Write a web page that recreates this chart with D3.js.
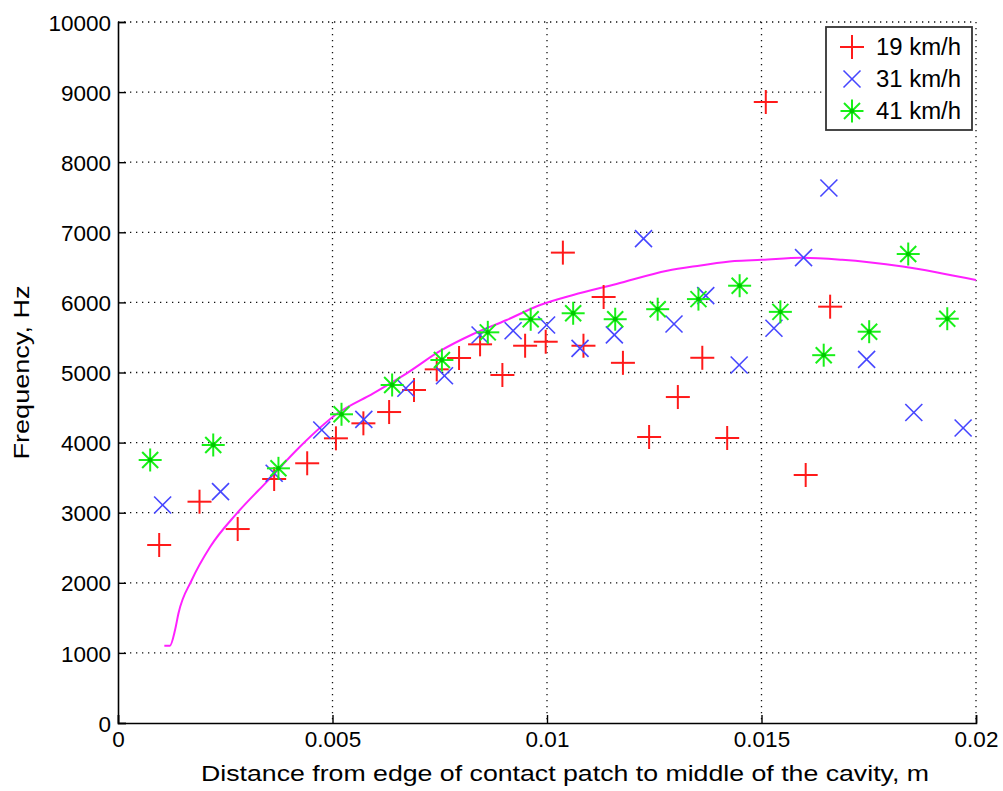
<!DOCTYPE html>
<html>
<head>
<meta charset="utf-8">
<script src="https://cdn.jsdelivr.net/npm/d3@7"></script>
<style>
  body { margin: 0; background: #fff; }
  text { font-family: "Liberation Sans", Arial, Helvetica, sans-serif; fill: #000; }
</style>
</head>
<body>
<div id="chart"></div>
<script>
const WIDTH = 1003;
const HEIGHT = 791;
const MARGIN = { top: 22, right: 27, bottom: 68, left: 118 };
const FONT_SIZE = 22.5;

// --------------- Data ---------------
const speeds = ["19 km/h", "31 km/h", "41 km/h"];

const dist19 = [0.00096, 0.00190, 0.00279, 0.00364, 0.00441, 0.00508, 0.00572, 0.00632, 0.00690,
  0.00743, 0.00795, 0.00844, 0.00896, 0.00949, 0.00997, 0.01037, 0.01085, 0.01132, 0.01177,
  0.01238, 0.01305, 0.01362, 0.01420, 0.01510, 0.01603, 0.01660];
const freq19 = [2539, 3157, 2767, 3481, 3705, 4061, 4275, 4436, 4750,
  5045, 5207, 5402, 4964, 5382, 5439, 6710, 5382, 6077, 5138,
  4080, 4650, 5210, 4066, 8859, 3538, 5939];

const dist31 = [0.00104, 0.00239, 0.00364, 0.00475, 0.00573, 0.00671, 0.00761, 0.00844, 0.00921,
  0.00999, 0.01077, 0.01157, 0.01225, 0.01296, 0.01370, 0.01448, 0.01529, 0.01598, 0.01657,
  0.01745, 0.01855, 0.01970];
const freq31 = [3110, 3300, 3562, 4180, 4332, 4775, 4954, 5535, 5596,
  5677, 5345, 5536, 6910, 5692, 6097, 5107, 5632, 6638, 7632,
  5187, 4430, 4208];

const dist41 = [0.00075, 0.00222, 0.00374, 0.00521, 0.00639, 0.00755, 0.00862, 0.00962, 0.01061,
  0.01159, 0.01258, 0.01353, 0.01449, 0.01544, 0.01645, 0.01751, 0.01842, 0.01933];
const freq41 = [3752, 3966, 3633, 4404, 4822, 5178, 5573, 5759, 5845,
  5760, 5903, 6047, 6238, 5865, 5247, 5582, 6690, 5767];

// magenta fitted curve, traced point by point
const curveX = [0.00108, 0.00121, 0.00133, 0.00141, 0.00172, 0.00215, 0.00277, 0.00350, 0.00424,
  0.00512, 0.00595, 0.00673, 0.00751, 0.00828, 0.00906, 0.00984, 0.01061, 0.01162, 0.01280,
  0.01358, 0.01437, 0.01500, 0.01594, 0.01688, 0.01750, 0.01829, 0.01907, 0.02000];
const curveY = [1103, 1103, 1327, 1565, 2040, 2515, 2991, 3462, 3941,
  4418, 4703, 4988, 5307, 5549, 5749, 5963, 6106, 6263, 6453,
  6526, 6590, 6607, 6636, 6607, 6573, 6512, 6431, 6320];

const xTicks = [0, 0.005, 0.01, 0.015, 0.02];
const xTickLabels = ["0", "0.005", "0.01", "0.015", "0.02"];
const yTicks = [0, 1000, 2000, 3000, 4000, 5000, 6000, 7000, 8000, 9000, 10000];

const series = [
  { name: speeds[0], xs: dist19, ys: freq19, marker: "plus", color: "#ff1a1a" },
  { name: speeds[1], xs: dist31, ys: freq31, marker: "cross", color: "#4646ff" },
  { name: speeds[2], xs: dist41, ys: freq41, marker: "star", color: "#18f018" }
];

// --------------- Step 1 ---------------
// SVG container and scales
const svg = d3.select("#chart").append("svg")
  .attr("width", WIDTH)
  .attr("height", HEIGHT);

const x = d3.scaleLinear()
  .domain([0, 0.02])
  .range([MARGIN.left, WIDTH - MARGIN.right]);

const y = d3.scaleLinear()
  .domain([0, 10000])
  .range([HEIGHT - MARGIN.bottom, MARGIN.top]);

// --------------- Step 2 ---------------
// dotted grid
const grid = svg.append("g")
  .attr("stroke", "#111")
  .attr("stroke-width", 1.3)
  .attr("stroke-dasharray", "1.3,4.7");

grid.selectAll("line.gx")
  .data(xTicks.slice(1))
  .enter().append("line")
  .attr("x1", d => x(d)).attr("x2", d => x(d))
  .attr("y1", y(10000)).attr("y2", y(0));

grid.selectAll("line.gy")
  .data(yTicks.slice(1))
  .enter().append("line")
  .attr("x1", x(0)).attr("x2", x(0.02))
  .attr("y1", d => y(d)).attr("y2", d => y(d));

// --------------- Step 3 ---------------
// axes, ticks point inward like matlab
const xAxis = svg.append("g")
  .attr("transform", `translate(0,${y(0)})`)
  .call(d3.axisBottom(x).tickValues(xTicks).tickFormat((d, i) => xTickLabels[i]).tickSize(-8).tickPadding(10));

const yAxis = svg.append("g")
  .attr("transform", `translate(${x(0)},0)`)
  .call(d3.axisLeft(y).tickValues(yTicks).tickFormat(d3.format("d")).tickSize(-8).tickPadding(7));

[xAxis, yAxis].forEach(a => {
  a.select(".domain").attr("stroke", "#000").attr("stroke-width", 1.6);
  a.selectAll(".tick line").attr("stroke", "#000").attr("stroke-width", 1.4);
  a.selectAll(".tick text").attr("font-size", FONT_SIZE).attr("font-family", null);
});
xAxis.selectAll(".tick text").attr("dy", "0.6em");
yAxis.selectAll(".tick text").attr("dy", "0.36em");

// the original glyphs are wider than Liberation Sans, so stretch the titles
svg.append("text")
  .attr("x", 565)
  .attr("y", 781)
  .attr("text-anchor", "middle")
  .attr("font-size", FONT_SIZE)
  .attr("textLength", 728)
  .attr("lengthAdjust", "spacingAndGlyphs")
  .text("Distance from edge of contact patch to middle of the cavity, m");

svg.append("text")
  .attr("transform", `translate(29,${(y(0) + y(10000)) / 2}) rotate(-90)`)
  .attr("text-anchor", "middle")
  .attr("font-size", FONT_SIZE)
  .attr("textLength", 174)
  .attr("lengthAdjust", "spacingAndGlyphs")
  .text("Frequency, Hz");

// --------------- Step 4 ---------------
// fitted curve
const line = d3.line()
  .x(d => x(d[0]))
  .y(d => y(d[1]))
  .curve(d3.curveMonotoneX);

svg.append("path")
  .datum(d3.zip(curveX, curveY))
  .attr("d", line)
  .attr("fill", "none")
  .attr("stroke", "#ff20ff")
  .attr("stroke-width", 2);

// --------------- Step 5 ---------------
// markers
function drawMarker(sel, type, color) {
  if (type === "plus" || type === "star") {
    const r = type === "plus" ? 12 : 11.5;
    sel.append("line").attr("x1", -r).attr("x2", r).attr("y1", 0).attr("y2", 0);
    sel.append("line").attr("x1", 0).attr("x2", 0).attr("y1", -r).attr("y2", r);
  }
  if (type === "cross" || type === "star") {
    const r = type === "cross" ? 8.5 : 8;
    sel.append("line").attr("x1", -r).attr("x2", r).attr("y1", -r).attr("y2", r);
    sel.append("line").attr("x1", -r).attr("x2", r).attr("y1", r).attr("y2", -r);
  }
  if (type === "star") {
    sel.append("circle").attr("r", 2.4).attr("fill", "#00c800").attr("stroke", "none");
  }
  sel.attr("stroke", color)
    .attr("stroke-width", type === "cross" ? 1.6 : 2)
    .attr("fill", "none");
}

series.forEach(s => {
  svg.append("g")
    .selectAll("g")
    .data(d3.zip(s.xs, s.ys))
    .enter().append("g")
    .attr("transform", d => `translate(${x(d[0])},${y(d[1])})`)
    .each(function() { drawMarker(d3.select(this), s.marker, s.color); });
});

// --------------- Step 6 ---------------
// legend box top right
const legend = svg.append("g");

legend.append("rect")
  .attr("x", 826).attr("y", 27)
  .attr("width", 146).attr("height", 103)
  .attr("fill", "#fff")
  .attr("stroke", "#333")
  .attr("stroke-width", 1.8);

series.forEach((s, i) => {
  const rowY = 47 + i * 32;
  legend.append("g")
    .attr("transform", `translate(852,${rowY})`)
    .call(drawMarker, s.marker, s.color);
  legend.append("text")
    .attr("x", 876)
    .attr("y", rowY)
    .attr("dy", "0.36em")
    .attr("font-size", 23)
    .attr("textLength", 85)
    .attr("lengthAdjust", "spacingAndGlyphs")
    .text(s.name);
});
</script>
</body>
</html>
